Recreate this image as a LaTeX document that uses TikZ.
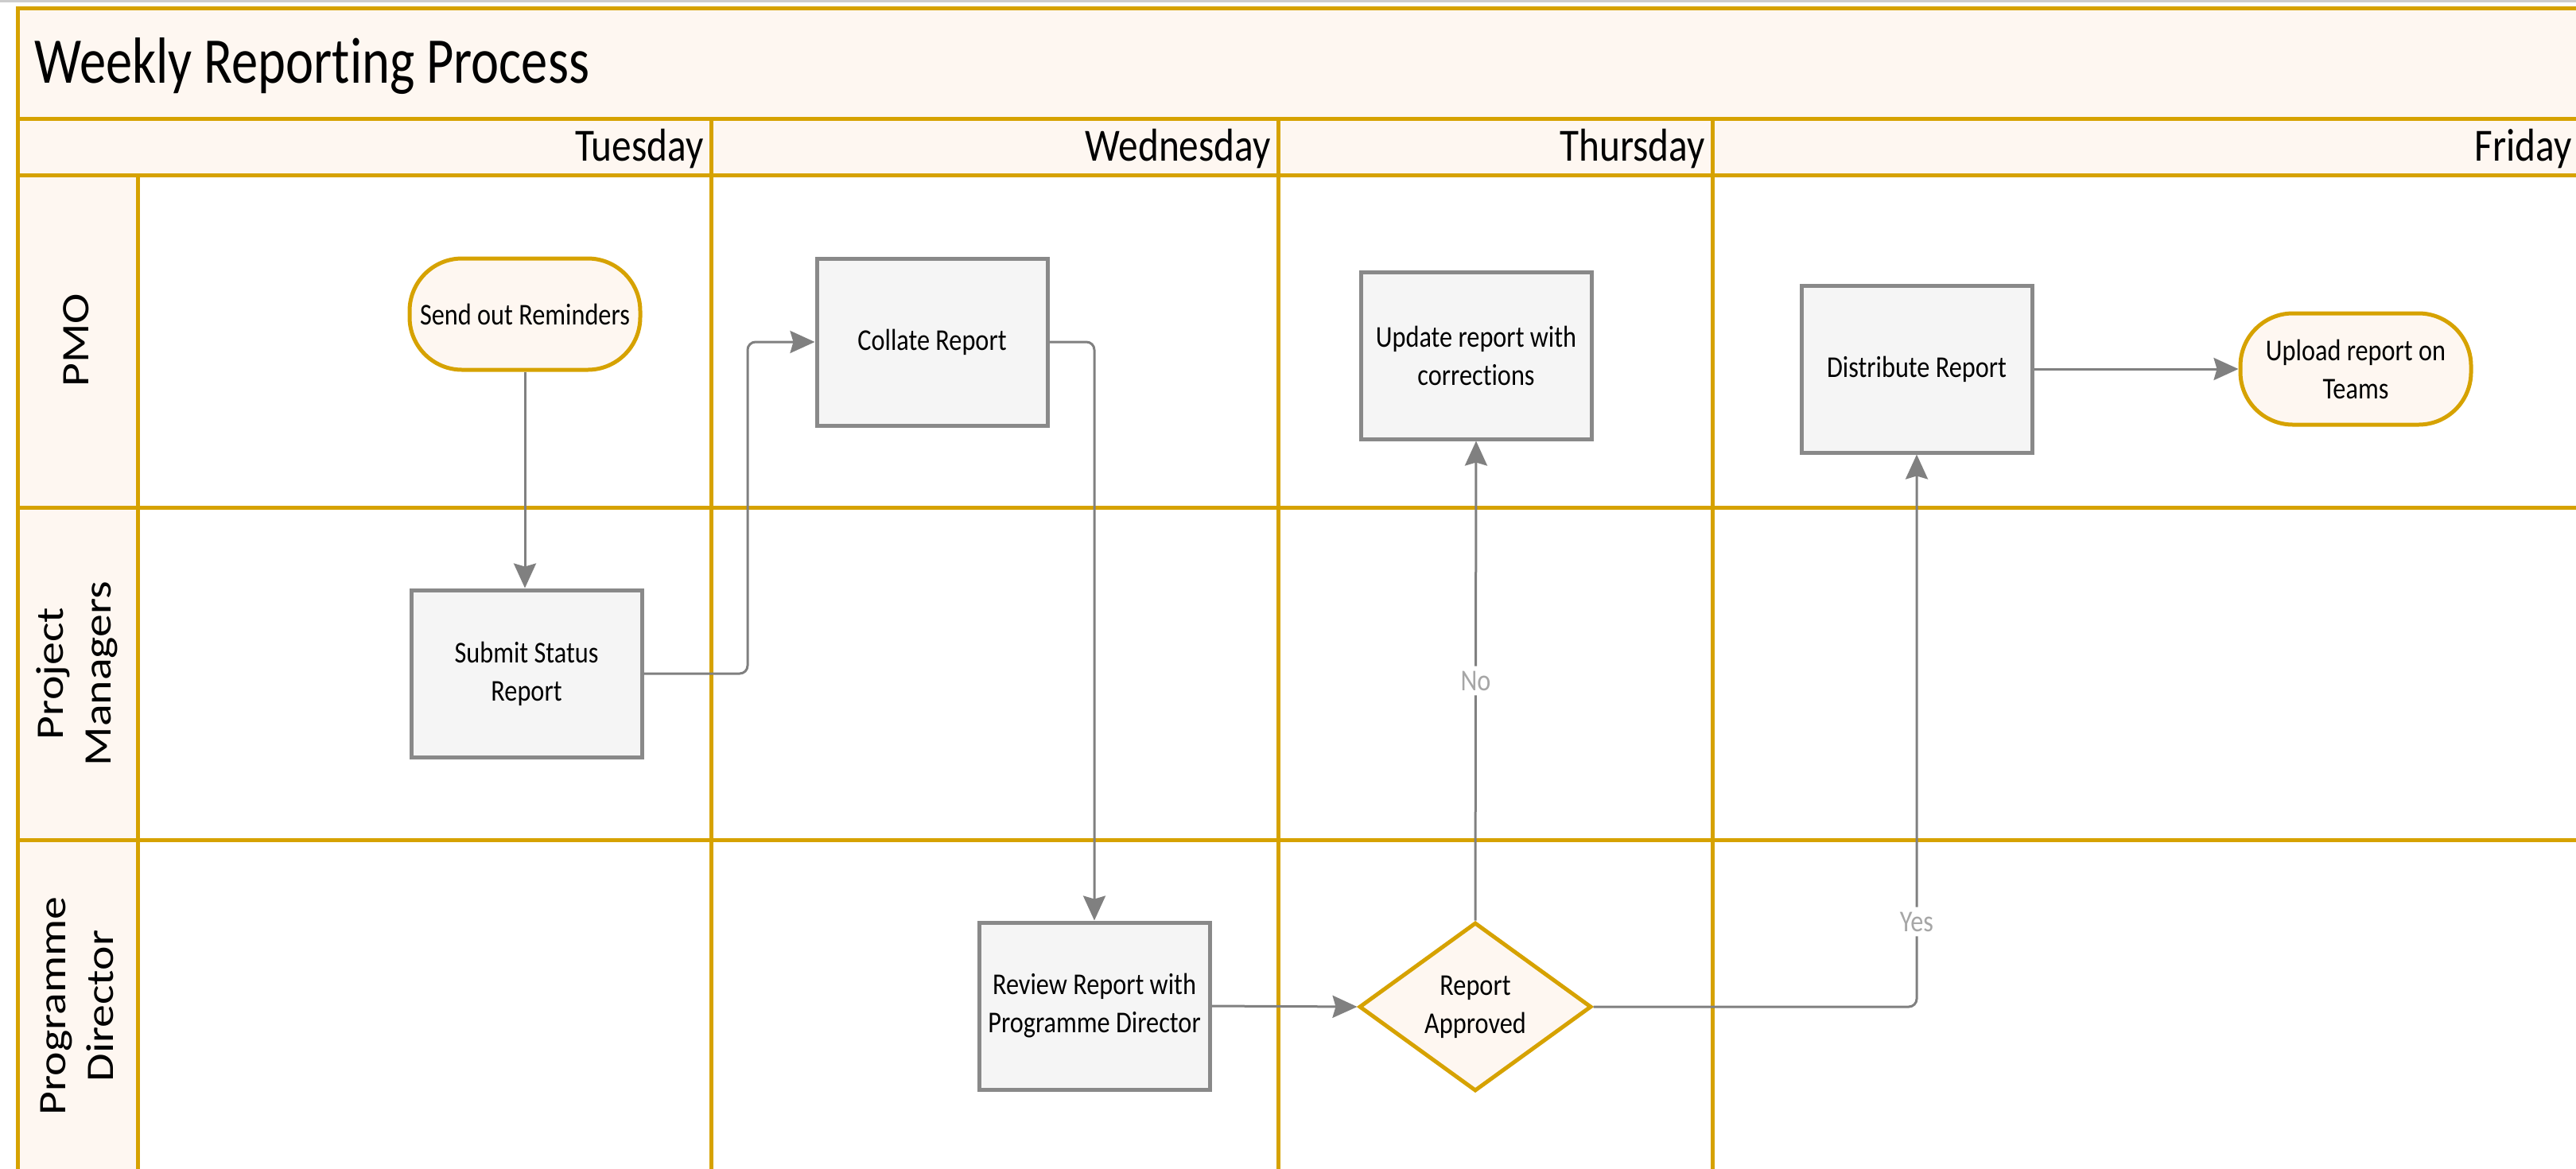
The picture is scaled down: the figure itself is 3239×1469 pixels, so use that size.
\documentclass[tikz,border=0pt]{standalone}
\usepackage{fontspec}
\setmainfont{Carlito}[FakeStretch=0.85,Ligatures=NoCommon]
\newfontfamily\titlefont{Carlito}[FakeStretch=0.81,Ligatures=NoCommon]
\newfontfamily\lanefont{Carlito}[FakeStretch=1.18,Ligatures=NoCommon]
\usetikzlibrary{shapes.geometric,arrows.meta}
\definecolor{gold}{RGB}{214,162,0}
\definecolor{cream}{HTML}{FEF7F1}
\definecolor{boxline}{HTML}{898989}
\definecolor{boxfill}{HTML}{F5F5F5}
\definecolor{connline}{HTML}{808080}
\definecolor{labelgrey}{HTML}{A6A6A6}
\begin{document}
\begin{tikzpicture}[x=0.5pt,y=-0.5pt,
  grid/.style={draw=gold,line width=2.5pt},
  task/.style={rectangle,draw=boxline,fill=boxfill,line width=2.5pt,
    minimum width=145pt,minimum height=105pt,align=center,inner sep=2pt,
    font=\fontsize{19}{24}\selectfont},
  terminal/.style={rectangle,rounded corners=33pt,draw=gold,fill=cream,line width=2.5pt,
    minimum width=145pt,minimum height=70pt,align=center,inner sep=2pt,
    font=\fontsize{19}{24}\selectfont},
  decision/.style={diamond,draw=gold,fill=cream,line width=2.5pt,aspect=1.38,
    minimum width=146pt,minimum height=106pt,inner sep=0pt,align=center,
    font=\fontsize{19}{24}\selectfont},
  conn/.style={draw=connline,line width=1.5pt,rounded corners=5pt,
    -{Stealth[length=15.5pt,width=14pt,inset=2pt]}},
  flowlabel/.style={fill=white,text=labelgrey,inner sep=3pt,font=\fontsize{19}{22}\selectfont},
  daylabel/.style={anchor=base east,font=\fontsize{29}{34}\selectfont},
  lanelabel/.style={rotate=90,align=center,font=\lanefont\fontsize{24.5}{30}\selectfont}
]
\useasboundingbox (0,0) rectangle (3239,1469);
\begin{scope}
\clip (0,0) rectangle (3239,1469);
% window edge
\fill[gray!40] (0,0) rectangle (3239,3);
% filled header bands and lane-title column
\fill[cream] (22,10) rectangle (3300,220);
\fill[cream] (22,220) rectangle (173,1500);
% frame and grid
\draw[grid] (22,1500) -- (22,10) -- (3300,10);
\draw[grid] (22,149) -- (3300,149);
\draw[grid] (22,220) -- (3300,220);
\draw[grid] (22,638) -- (3300,638);
\draw[grid] (22,1056) -- (3300,1056);
\draw[grid] (173,220) -- (173,1500);
\draw[grid] (894,149) -- (894,1500);
\draw[grid] (1607,149) -- (1607,1500);
\draw[grid] (2153,149) -- (2153,1500);
% title and day headings
\node[anchor=base west,font=\titlefont\fontsize{41}{48}\selectfont,inner sep=0pt] (title) at (43,104) {Weekly Reporting Process};
\node[daylabel,inner sep=0pt] (tue) at (885,202) {Tuesday};
\node[daylabel,inner sep=0pt] (wed) at (1598,202) {Wednesday};
\node[daylabel,inner sep=0pt] (thu) at (2144,202) {Thursday};
\node[daylabel,inner sep=0pt] (fri) at (3234,202) {Friday};
% lane titles
\node[lanelabel] (pmo) at (96,428) {PMO};
\node[lanelabel] (pm) at (97,847) {Project\\Managers};
\node[lanelabel] (pd) at (97,1265) {Programme\\Director};
\end{scope}
% process steps
\node[terminal] (rem) at (660,395) {Send out Reminders};
\node[task] (sub) at (662,847) {Submit Status\\Report};
\node[task] (col) at (1172,430) {Collate Report};
\node[task] (rev) at (1376,1265) {Review Report with\\Programme Director};
\node[decision] (dec) at (1855,1266) {Report\\Approved};
\node[task] (upd) at (1856,447) {Update report with\\corrections};
\node[task] (dis) at (2410,464) {Distribute Report};
\node[terminal] (upl) at (2962,464) {Upload report on\\Teams};
\coordinate (j1) at (940,0);
% connectors
\draw[conn] (rem.south) -- (rem.south |- sub.north);
\draw[conn] (sub.east) -- (sub.east -| j1) -- (j1 |- col.west) -- (col.west);
\draw[conn] (col.east) -| (rev.north);
\draw[conn] (rev.east) -- (dec.west);
\draw[conn] (dec.north) -- node[flowlabel] {No} (upd.south);
\draw[conn] (dec.east) -| node[flowlabel,pos=0.577] {Yes} (dis.south);
\draw[conn] (dis.east) -- (upl.west);
\end{tikzpicture}
\end{document}
